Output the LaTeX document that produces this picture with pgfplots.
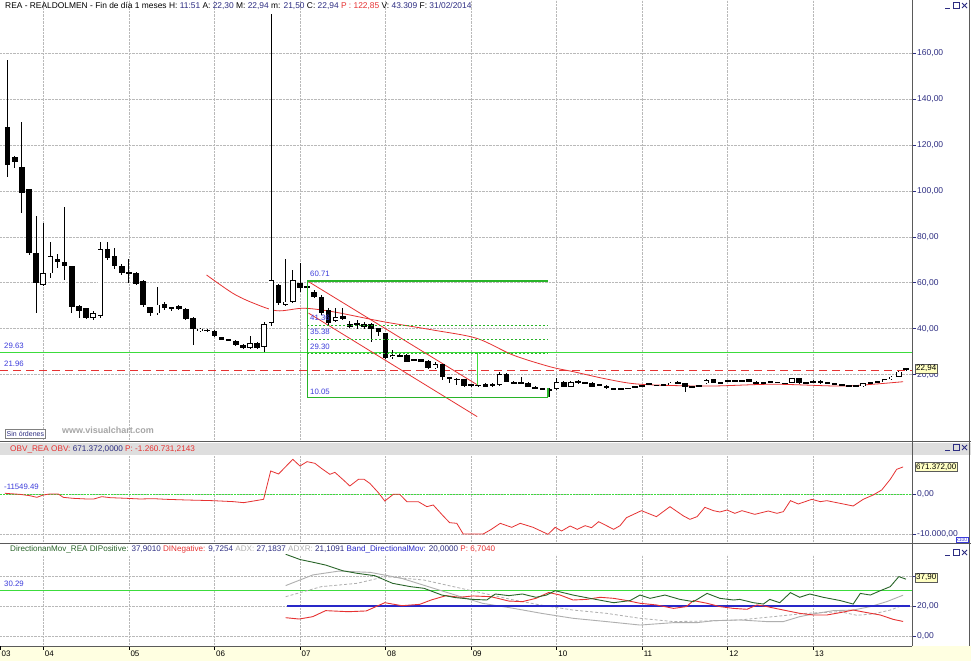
\documentclass[border=0pt]{standalone}
\usepackage{pgfplots}
\pgfplotsset{compat=1.18}
\usepackage{pgfplotstable}
\usepackage{fontspec}
\setmainfont{Liberation Sans}
\definecolor{navy}{RGB}{45,45,130}
\definecolor{lblue}{RGB}{60,60,220}
\definecolor{redl}{RGB}{230,50,50}
\definecolor{bgreen}{RGB}{60,220,60}
\definecolor{fibgreen}{RGB}{40,180,40}
\definecolor{dgreen}{RGB}{40,100,40}
\definecolor{gridgray}{RGB}{185,185,185}
\definecolor{yellowbg}{RGB}{255,255,225}
\definecolor{boxyellow}{RGB}{255,255,195}
\definecolor{headgray}{RGB}{222,222,222}
\definecolor{framegray}{RGB}{90,90,90}
\definecolor{adxgray}{RGB}{175,175,175}
\definecolor{bandblue}{RGB}{40,40,200}

\pgfplotstableread{
x o h l c
-5 128.0 157.1 106.2 111.3
-4 114.7 115.2 109.9 112.5
-3 110.3 130.2 90.3 99.0
-2 100.7 100.7 72.1 72.9
-1 72.9 89.1 46.7 59.8
0 59.0 86.0 58.5 64.1
1 64.1 77.9 62.0 71.7
2 70.2 72.5 66.6 69.1
3 69.1 93.2 61.0 67.1
4 67.1 67.1 46.7 49.6
5 49.9 50.5 44.5 47.9
6 48.9 49.0 44.1 44.8
7 44.8 47.5 44.0 46.7
8 45.4 77.9 44.8 74.8
9 74.8 77.9 70.0 71.0
10 71.7 75.0 65.9 67.1
11 67.1 68.0 63.5 64.1
12 64.1 70.2 60.1 64.3
13 64.1 64.8 59.0 59.6
14 60.9 61.0 49.5 50.2
15 49.6 49.6 45.7 46.7
16 46.7 58.0 46.0 50.5
17 50.8 51.5 48.0 48.9
18 48.9 49.5 47.5 49.1
19 49.9 50.2 48.0 48.6
20 48.6 48.8 43.8 44.1
21 44.5 44.9 33.0 40.0
22 39.1 40.5 38.5 40.0
23 39.6 40.0 38.6 39.0
24 39.1 39.4 36.3 36.6
25 36.3 36.5 34.9 35.2
26 35.3 35.6 34.7 35.0
27 34.8 35.1 32.5 33.0
28 33.0 33.3 31.2 31.5
29 31.5 37.0 31.2 33.6
30 33.8 34.3 31.0 31.8
31 32.0 42.8 30.0 42.0
32 42.4 177.0 41.0 61.2
33 59.0 59.5 50.5 51.1
34 50.5 70.5 50.0 51.8
35 51.8 65.6 51.0 61.2
36 59.8 68.5 56.0 57.8
37 58.5 60.71 57.5 58.0
38 56.1 57.0 53.5 53.9
39 53.9 54.5 46.0 46.7
40 48.1 48.9 41.5 42.4
41 43.5 48.9 43.0 45.2
42 45.5 48.9 43.6 44.1
43 42.0 43.5 40.2 40.9
44 41.9 43.8 39.7 42.1
45 42.0 43.0 40.0 40.6
46 42.0 42.4 34.3 39.7
47 40.2 40.5 37.0 38.7
48 38.0 38.2 26.8 27.1
49 27.5 30.7 27.0 28.5
50 28.4 29.0 27.8 28.2
51 28.5 28.8 25.3 25.6
52 26.7 27.0 25.8 26.1
53 26.7 27.0 25.3 25.6
54 26.1 26.4 22.4 22.7
55 22.7 25.5 22.4 24.5
56 24.5 24.8 17.5 18.8
57 18.8 19.0 16.2 17.9
58 18.2 18.5 15.5 17.6
59 17.9 18.2 14.7 15.0
60 15.8 16.0 14.7 15.0
61 15.2 15.5 14.9 15.3
62 15.8 16.5 14.5 14.7
63 15.8 16.2 14.8 15.0
64 15.5 21.0 15.2 20.3
65 20.3 20.6 16.6 16.9
66 16.9 17.2 16.0 16.2
67 16.5 18.8 16.2 16.6
68 16.5 16.8 14.5 14.7
69 14.7 15.0 13.8 14.0
70 14.0 14.3 13.1 13.3
71 13.3 14.2 10.05 13.6
72 13.6 18.4 13.4 16.9
73 16.9 17.2 14.5 14.7
74 14.7 17.3 14.5 16.9
75 16.9 17.5 16.0 16.7
76 16.5 16.8 16.0 16.3
77 16.5 16.7 14.5 14.7
78 15.6 15.9 15.2 15.5
79 15.2 15.4 13.8 14.0
80 13.7 14.0 13.3 13.6
81 13.6 14.0 13.3 13.7
82 13.9 14.2 13.7 14.0
83 14.6 14.9 14.4 14.7
84 15.1 15.4 14.9 15.2
85 16.2 16.4 15.3 15.5
86 15.3 15.6 15.0 15.2
87 15.5 15.8 15.2 15.4
88 15.5 16.8 15.3 16.5
89 16.9 17.2 15.8 16.0
90 16.2 16.4 12.5 14.7
91 14.6 14.9 14.4 14.7
92 14.9 15.2 14.7 15.0
93 16.2 17.9 16.0 17.6
94 17.9 18.2 16.3 16.5
95 16.5 16.9 16.3 16.6
96 17.1 17.4 16.9 17.2
97 17.2 17.5 17.0 17.3
98 17.3 17.6 17.0 17.3
99 17.9 18.2 16.7 16.9
100 16.9 17.1 16.0 16.2
101 16.4 16.7 16.2 16.5
102 16.8 17.1 16.6 16.9
103 16.6 16.9 16.4 16.6
104 16.1 16.4 15.9 16.2
105 16.5 18.7 16.3 18.4
106 18.4 18.6 16.0 16.2
107 16.5 16.8 16.3 16.6
108 17.3 17.5 16.3 16.5
109 17.3 17.5 16.0 16.2
110 16.4 16.7 16.2 16.5
111 15.8 16.1 15.6 15.9
112 15.9 16.1 15.1 15.3
113 15.1 15.4 14.9 15.2
114 14.9 15.2 14.7 15.0
115 15.0 16.4 14.8 16.2
116 16.5 16.8 16.3 16.6
117 16.8 17.1 16.6 16.9
118 16.9 18.1 16.7 17.9
119 17.9 19.3 17.7 19.1
120 19.1 21.5 18.9 21.3
121 22.3 22.94 21.5 22.94
}\candles

\pgfplotsset{
  panel/.style={
    scale only axis, width=912pt, xmin=-6.07, xmax=121.85,
    axis x line*=bottom, axis y line*=right,
    axis line style={draw=framegray, line width=0.9pt},
    xtick={0,12,...,108}, xmajorgrids, ymajorgrids,
    major grid style={gridgray, densely dotted, line width=0.6pt},
    ytick pos=right, tick align=outside,
    ytick style={navy, line width=0.6pt}, major tick length=4pt,
    yticklabel style={navy, font=\fontsize{8.5}{10}\selectfont, anchor=west, inner sep=1pt},
    scaled y ticks=false,
    /pgf/number format/assume math mode=true,
    /pgf/number format/fixed, /pgf/number format/fixed zerofill,
    /pgf/number format/precision=2, /pgf/number format/use comma,
    /pgf/number format/1000 sep={.},
  },
  candle/.style n args={2}{draw=none, mark=none, forget plot,
    error bars/.cd, y dir=both, y explicit, error mark=none,
    error bar style={draw=#1, solid, line width=#2}},
  fibline/.style={draw=fibgreen, solid, line width=1.5pt},
}

\begin{document}
\begin{tikzpicture}
\path[use as bounding box, fill=white] (0pt,0pt) rectangle (971pt,661pt);
% header bars and strips
\fill[headgray] (0pt,206pt) rectangle (971pt,218pt);
\fill[yellowbg] (0pt,0pt) rectangle (971pt,15pt);

% ---------------- main panel ----------------
\begin{axis}[panel, at={(0pt,220pt)}, anchor=south west, height=441pt,
  ymin=-8.93, ymax=183.2, ytick={20,40,...,160},
  xticklabels={}, xtick style={draw=none}]
\addplot[bgreen, line width=1.2pt] coordinates {(-6.07,29.63) (121.85,29.63)};
\addplot[redl, line width=1.1pt, dash pattern=on 8pt off 5pt] coordinates {(-6.07,21.96) (121.85,21.96)};
% channel
\addplot[redl, line width=0.8pt] coordinates {(37.2,60.5) (60.9,15.5)};
\addplot[redl, line width=0.8pt] coordinates {(37.2,46.8) (60.85,1.7)};
% moving average
\addplot[redl, line width=0.8pt, smooth] coordinates {
(22.9,63.4) (26.6,55.4) (29.5,51.1) (32.8,47.8) (36.5,48.9) (40.6,47.4) (47.6,43.1)
(54.7,39.4) (60.8,35.8) (65.9,28.5) (71.1,23.4) (74.3,21.3) (79.1,18.0) (83.7,15.8)
(93.1,15.0) (102.4,15.8) (111.7,15.0) (116.4,15.8) (120.6,16.9)};
% candles: wicks
\addplot[candle={black}{0.8pt}]
  table[x=x, y expr={(\thisrow{h}+\thisrow{l})/2}, y error expr={(\thisrow{h}-\thisrow{l})/2}]{\candles};
% bodies
\addplot[candle={black}{5.6pt}]
  table[x=x, y expr={(\thisrow{o}+\thisrow{c})/2}, y error expr={max(abs(\thisrow{o}-\thisrow{c})/2,0.3)}]{\candles};
\addplot[restrict y to domain=-100:300, candle={white}{4.0pt}]
  table[x=x, y expr={ifthenelse(\thisrow{c}-\thisrow{o}>0.8,(\thisrow{o}+\thisrow{c})/2,-500)},
        y error expr={max((\thisrow{c}-\thisrow{o})/2-0.35,0.05)}]{\candles};
% fibonacci box (on top)
\addplot[fibline] coordinates {(37.03,60.71) (70.8,60.71)};
\addplot[fibline] coordinates {(37.03,60.71) (37.03,10.05)};
\addplot[fibline] coordinates {(37.03,10.05) (70.8,10.05)};
\addplot[fibline] coordinates {(70.8,10.05) (70.8,14.0)};
\addplot[fibline, line width=1.2pt, dash pattern=on 2pt off 2pt] coordinates {(37.03,41.36) (70.8,41.36)};
\addplot[fibline, line width=1.2pt, dash pattern=on 2pt off 2pt] coordinates {(37.03,35.38) (70.8,35.38)};
\addplot[fibline, line width=1.2pt, dash pattern=on 2pt off 2pt] coordinates {(37.03,29.30) (70.8,29.30)};
\addplot[draw=bgreen, line width=1.4pt] coordinates {(60.88,29.3) (60.88,15.3)};
\end{axis}

% ---------------- OBV panel ----------------
\begin{axis}[panel, at={(0pt,118pt)}, anchor=south west, height=88pt,
  ymin=-12159, ymax=9677, ytick={-10000,0},
  xticklabels={}, xtick style={draw=none}]
\addplot[bgreen, line width=1.2pt, dash pattern=on 2pt off 1pt] coordinates {(-6.07,-115.49) (121.85,-115.49)};
\addplot[redl, line width=0.8pt] coordinates {
(-5.4,174) (-3.3,-83) (-1.9,-413) (-0.9,-827) (0,-248) (0.9,0) (2.1,0) (2.8,-827)
(4.2,-1075) (6.1,-1240) (7.1,-1240) (8.2,-662) (9.4,-910) (11.7,-1075) (13.6,-1240)
(15.4,-1158) (17.3,-1323) (20.1,-1489) (22,-1571) (23.8,-1654) (26.7,-1902) (28.1,-2150)
(29.5,-1737) (30.9,-1323) (31.9,5707) (33,4963) (35,8602) (36,6948) (37,8023) (38.1,7610)
(39,6369) (40.2,4880) (40.9,5376) (42.1,3474) (43,1985) (44.2,3639) (45,3639) (45.8,2646)
(47,331) (47.9,-1737) (49.1,-83) (50,-83) (51,-1902) (52.6,-1902) (53.8,-3142) (54.7,-2729)
(56.1,-5458) (57,-7112) (58,-7278) (58.9,-9924) (61.7,-9924) (62.7,-8932) (64.1,-7278)
(65.7,-8271) (66.9,-7278) (68.7,-8271) (70.8,-10007) (71.8,-8271) (72.7,-9180) (73.9,-7940)
(74.9,-8767) (76,-7857) (76.9,-8354) (77.9,-6865) (80,-8767) (80.9,-7857) (81.8,-5872)
(83.9,-4135) (86,-5624) (87.9,-3142) (89.8,-5458) (90.7,-6286) (91.7,-5624) (92.8,-3308)
(94,-4135) (94.9,-4466) (95.9,-3970) (97,-4797) (98,-4135) (99.8,-5045) (101.7,-4218)
(102.9,-4797) (103.8,-4383) (104.8,-1654) (105.9,-2481) (107.8,-1323) (109,-1902)
(109.9,-1654) (113.6,-2977) (115,-1323) (116.4,-248) (117.6,992) (118.8,3639)
(119.7,6121) (120.6,6714)};
\end{axis}

% ---------------- DMI panel ----------------
\begin{axis}[panel, at={(0pt,15pt)}, anchor=south west, height=91pt,
  ymin=-6.67, ymax=54, ytick={0,20}, extra y ticks={40}, extra y tick labels={},
  xticklabels={04,05,06,07,08,09,10,11,12,13},
  extra x ticks={-6.07}, extra x tick labels={03}, extra x tick style={grid=none},
  xtick style={black, line width=0.6pt}, xtick pos=bottom,
  xticklabel style={black, font=\fontsize{8}{9}\selectfont, anchor=north west, inner sep=0pt, xshift=1.5pt, yshift=-1pt}]
\addplot[bgreen, line width=1.1pt] coordinates {(-6.07,30.29) (121.85,30.29)};
\addplot[adxgray, line width=0.8pt, densely dashed] coordinates {
(34,26.2) (39,32.9) (44,35.1) (48,39.6) (53.4,37.3) (59.6,30.7) (66,24) (69.7,20.7)
(74.3,17.3) (79,15.1) (83.7,11.8) (88.4,9.6) (93.1,10) (97.7,10.7) (102.4,12.9) (107,15.1)
(111.8,16.2) (114.1,13.8) (116.4,14.7) (118.8,17.3) (120.6,20.5)};
\addplot[adxgray, line width=0.9pt] coordinates {
(34,33.6) (37.8,40.7) (41.5,43.3) (45.9,42.4) (50.3,38.4) (54,32.9) (57.8,27.3) (61.6,21.8)
(66,18.4) (70,15) (74.3,11.8) (79,9.6) (83.7,7.3) (88.4,8.9) (91.7,8.9) (94,10.2) (97.7,10.7)
(101.5,9.6) (103.8,9.6) (106.1,12.9) (108.5,15.1) (110.8,16.9) (113.6,17.3) (116,19.6)
(118.3,22.9) (120.6,27.2)};
\addplot[bandblue, line width=1.4pt] coordinates {(34.2,20) (121.6,20)};
\addplot[redl, line width=0.9pt] coordinates {
(34,12.2) (35.9,11.3) (37.8,12.9) (39.6,16.9) (42.8,16.2) (45.3,16.7) (47.9,22.2) (50.3,20.2)
(52.8,21.1) (54.4,24) (56.5,26.9) (58.4,25.8) (60.3,26.7) (62.8,26.2) (65.3,23.3) (67.2,22.9)
(69.1,25.1) (70.9,29) (72.5,27.3) (74.3,24.0) (76.2,24.4) (78.1,25.8) (80,25.1) (81.9,23.6)
(83.7,21.8) (86,20.7) (88.4,18.4) (90.2,19.6) (91.2,23.6) (93.1,21.8) (94.9,19.6) (96.8,18.4)
(98.7,17.8) (100.1,20.7) (101.5,19.6) (103.3,17.8) (106.1,15.1) (108,14) (109.9,14)
(111.8,15.6) (113.6,17.3) (115.5,15.6) (117.4,14) (119.2,11.1) (120.6,9.7)};
\addplot[dgreen, line width=0.9pt] coordinates {
(34,54.5) (36,51) (38,49) (39.6,47.3) (42,43.5) (44,41.8) (46.5,40.2) (49,35.1) (51.5,32.9)
(53.4,31.8) (55.9,27.3) (57.8,25.6) (60.3,24.4) (62.2,24) (63.4,28) (65.3,26.9) (67.2,28)
(69.1,25.8) (70.6,27.3) (71.8,30.2) (74.3,27.3) (76.7,25.1) (80,22.2) (82.3,23.6) (83.7,27.3)
(85.1,25.1) (87.2,27.3) (89.3,24.4) (91.2,22.9) (93.1,28.4) (94.9,25.1) (96.8,24) (97.7,24.4)
(99.6,22.2) (101,21.3) (101.9,24.4) (103.3,22.2) (104.8,28.9) (106.1,25.8) (107.5,28)
(109.4,25.8) (111.8,23.6) (113.6,21.3) (114.6,28.4) (116,27.3) (117.4,30.2) (118.8,32.9)
(120,39.6) (121,37.9)};
\end{axis}

% separators and frame
\draw[framegray, line width=1pt] (0pt,219.5pt) -- (971pt,219.5pt);
\draw[framegray, line width=1pt] (0pt,117pt) -- (971pt,117pt);
\draw[framegray, line width=0.8pt] (912pt,15pt) -- (912pt,661pt);
\draw[framegray, line width=0.8pt] (969pt,15pt) -- (969pt,661pt);

% header texts
\node[anchor=west, inner sep=0pt, font=\fontsize{8.4}{9}\selectfont] at (5pt,655.5pt)
 {REA - REALDOLMEN - Fin de día 1 meses H: \textcolor{navy}{11:51} A: \textcolor{navy}{22,30} M: \textcolor{navy}{22,94} m: \textcolor{navy}{21,50} C: \textcolor{navy}{22,94} \textcolor{redl}{P : 122,85} V: \textcolor{navy}{43.309} F: \textcolor{navy}{31/02/2014}};
\node[anchor=west, inner sep=0pt, font=\fontsize{8.2}{9}\selectfont] at (10pt,212pt)
 {\textcolor{redl}{OBV\_REA OBV:} \textcolor{navy}{671.372,0000} \textcolor{redl}{P: -1.260.731,2143}};
\node[anchor=west, inner sep=0pt, font=\fontsize{8.1}{9}\selectfont] at (10pt,112pt)
 {\textcolor{dgreen}{DirectionanMov\_REA DIPositive:} \textcolor{navy}{37,9010} \textcolor{redl}{DINegative:} \textcolor{navy}{9,7254} \textcolor{adxgray}{ADX:} \textcolor{navy}{27,1837} \textcolor{adxgray}{ADXR:} \textcolor{navy}{21,1091} \textcolor{bandblue}{Band\_DirectionalMov:} \textcolor{navy}{20,0000} \textcolor{redl}{P: 6,7040}};

% left labels
\begin{scope}[every node/.style={anchor=west, inner sep=0pt, text=lblue, font=\fontsize{7.8}{9}\selectfont}]
\node at (4pt,315pt) {29.63};
\node at (4pt,297pt) {21.96};
\node at (4pt,174pt) {-11549.49};
\node at (4pt,77pt) {30.29};
\node at (310pt,387pt) {60.71};
\node at (310pt,343pt) {41.36};
\node at (310pt,329pt) {35.38};
\node at (310pt,314pt) {29.30};
\node at (310pt,269pt) {10.05};
\end{scope}

% sin ordenes and watermark
\node[draw=gray, fill=white, anchor=south west, inner sep=1.5pt, text=navy, font=\fontsize{7}{8}\selectfont] at (5pt,223pt) {Sin órdenes};
\node[anchor=west, inner sep=0pt, text=gray!70, font=\bfseries\fontsize{9}{10}\selectfont] at (62pt,231pt) {www.visualchart.com};

% value boxes on right
\begin{scope}[every node/.style={draw=framegray, fill=boxyellow, anchor=west, inner sep=1pt, text=black, font=\fontsize{8}{9}\selectfont}]
\node at (915pt,292.5pt) {22,94};
\node at (915pt,194pt) {671.372,00};
\node at (915pt,83.5pt) {37,90};
\end{scope}
\node[draw=lblue, fill=white, inner sep=0.6pt, text=lblue, font=\fontsize{5}{5}\selectfont, anchor=south east] at (968pt,118.5pt) {x100};

% window buttons
\foreach \yy in {656,214,109} {
  \draw[navy, line width=0.8pt] (945pt,\yy pt-3pt) -- (950pt,\yy pt-3pt);
  \draw[navy, line width=0.7pt] (953pt,\yy pt-3.5pt) rectangle (959pt,\yy pt+2.5pt);
  \draw[navy, line width=0.8pt] (962pt,\yy pt-3pt) -- (967pt,\yy pt+2pt) (962pt,\yy pt+2pt) -- (967pt,\yy pt-3pt);
}
\end{tikzpicture}
\end{document}
